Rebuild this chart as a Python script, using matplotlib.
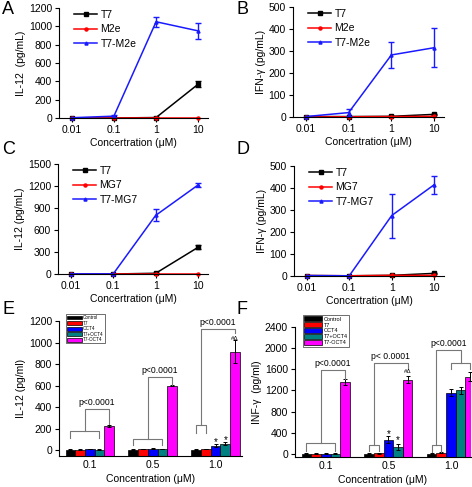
import numpy as np
import matplotlib.pyplot as plt

plt.rcParams['font.family'] = ['Liberation Sans', 'DejaVu Sans']
plt.rcParams['font.size'] = 7.5

W, H = 472, 487

# line panels: concentration series
conc = [0.01, 0.1, 1, 10]
conc_labels = ['0.01', '0.1', '1', '10']

a_names = ['T7', 'M2e', 'T7-M2e']
a_t7 = [0, 0, 5, 370]
a_t7_err = [0, 0, 3, 30]
a_m2e = [0, 0, 0, 0]
a_m2e_err = [0, 0, 0, 0]
a_fus = [3, 20, 1050, 950]
a_fus_err = [0, 15, 55, 90]

b_t7 = [2, 2, 3, 12]
b_t7_err = [0, 0, 1, 3]
b_m2e = [0, 1, 2, 3]
b_m2e_err = [0, 0, 0, 0]
b_fus = [2, 20, 282, 315]
b_fus_err = [0, 15, 58, 88]

c_names = ['T7', 'MG7', 'T7-MG7']
c_t7 = [0, 0, 10, 365]
c_t7_err = [0, 0, 3, 25]
c_mg7 = [0, 0, 0, 0]
c_mg7_err = [0, 0, 0, 0]
c_fus = [2, 2, 800, 1215]
c_fus_err = [0, 0, 80, 30]

d_t7 = [2, 1, 3, 12]
d_t7_err = [0, 0, 1, 2]
d_mg7 = [2, 1, 3, 3]
d_mg7_err = [0, 0, 0, 0]
d_fus = [2, 1, 275, 415]
d_fus_err = [0, 0, 100, 40]

# bar panels
groups = ['0.1', '0.5', '1.0']
bar_names = ['Control', 'T7', 'OCT4', 'T7+OCT4', 'T7-OCT4']
bar_colors = ['black', 'red', 'blue', '#008080', 'magenta']

e_vals = [[5, 5, 5], [5, 8, 8], [10, 12, 40], [5, 8, 60], [225, 600, 915]]
e_errs = [[2, 2, 2], [2, 2, 2], [3, 4, 15], [2, 2, 15], [12, 6, 110]]
f_vals = [[5, 5, 5], [5, 10, 20], [5, 270, 1160], [5, 130, 1200], [1360, 1405, 1460]]
f_errs = [[3, 3, 3], [3, 5, 10], [3, 60, 60], [3, 50, 60], [50, 60, 80]]


def px(l, t, r, b):
    return [l / W, 1 - b / H, (r - l) / W, (b - t) / H]


fig = plt.figure(figsize=(W / 100, H / 100), dpi=100)


def line_panel(rect, ylab, ymax, ystep, names, series, errs):
    ax = fig.add_axes(px(*rect))
    for name, y, e, m, c in zip(names, series, errs, ['s', 'o', '^'], ['black', 'red', '#1a1aff']):
        ax.plot(conc, y, color=c, marker=m, ms=2.2, lw=1.1, label=name, clip_on=False)
        idx = [i for i in range(len(conc)) if e[i] > 0]
        if idx:
            ax.errorbar([conc[i] for i in idx], [y[i] for i in idx], yerr=[e[i] for i in idx],
                        fmt='none', ecolor=c, capsize=2, elinewidth=1)
    ax.set_xscale('log')
    ax.set_xlim(0.005, 17)
    ax.set_xticks(conc)
    ax.set_xticklabels(conc_labels)
    ax.xaxis.set_minor_locator(plt.NullLocator())
    ax.set_ylim(0, ymax)
    ax.set_yticks(np.arange(0, ymax + 1, ystep))
    ax.spines[['top', 'right']].set_visible(False)
    ax.tick_params(direction='out', length=3, width=0.8, pad=2)
    ax.set_xlabel('Concertration (μM)', labelpad=2)
    ax.set_ylabel(ylab, labelpad=2)
    ax.legend(loc='upper left', bbox_to_anchor=(0.04, 1.07), frameon=False,
              handlelength=2.2, handletextpad=0.3, labelspacing=0.45, fontsize=7.5)
    return ax


line_panel((59, 8, 208, 118), 'IL-12  (pg/mL)', 1200, 200, a_names,
           [a_t7, a_m2e, a_fus], [a_t7_err, a_m2e_err, a_fus_err])
line_panel((293, 7, 444, 117), 'IFN-γ (pg/mL)', 500, 100, a_names,
           [b_t7, b_m2e, b_fus], [b_t7_err, b_m2e_err, b_fus_err])
line_panel((58, 164, 208, 274), 'IL-12 (pg/mL)', 1500, 300, c_names,
           [c_t7, c_mg7, c_fus], [c_t7_err, c_mg7_err, c_fus_err])
line_panel((294, 166, 444, 276), 'IFN-γ (pg/mL)', 500, 100, c_names,
           [d_t7, d_mg7, d_fus], [d_t7_err, d_mg7_err, d_fus_err])

bw = 0.154


def bar_x(g, k):
    return g + (k - 2) * bw


def bar_panel(rect, ylab, ylim, ystep, vals, errs, xmax, leg_anchor, leg_fs):
    ax = fig.add_axes(px(*rect))
    x = np.arange(len(groups))
    base = ylim[0]
    for k, (name, c) in enumerate(zip(bar_names, bar_colors)):
        ax.bar(x + (k - 2) * bw, np.array(vals[k]) - base, bw, bottom=base, yerr=errs[k],
               color=c, edgecolor='black', linewidth=0.5, label=name,
               error_kw=dict(ecolor='black', elinewidth=0.7, capsize=1.2, capthick=0.7))
    ax.set_xlim(-0.49, xmax)
    ax.set_ylim(*ylim)
    ax.set_yticks(np.arange(0, ylim[1] + 1, ystep))
    ax.set_xticks(x)
    ax.set_xticklabels(groups)
    ax.spines[['top', 'right']].set_visible(False)
    ax.tick_params(axis='y', direction='out', length=3, width=0.8, pad=2)
    ax.tick_params(axis='x', length=0, pad=3)
    ax.set_xlabel('Concentration (μM)', labelpad=3)
    ax.set_ylabel(ylab, labelpad=2)
    leg = ax.legend(loc='upper left', bbox_to_anchor=leg_anchor, fontsize=leg_fs, frameon=True,
                    fancybox=False, edgecolor='black', handlelength=3.2, handleheight=0.9,
                    handletextpad=0.3, labelspacing=0.12, borderpad=0.25, borderaxespad=0)
    leg.get_frame().set_linewidth(0.5)
    return ax


def compare(ax, g, i, j, h0, h1, h2, tx, ty, label, fs=6.2):
    # bracket over bars i..j in group g, linked to point (tx, ty)
    xl, xr = bar_x(g, i), bar_x(g, j)
    c = (xl + xr) / 2
    kw = dict(color='#777777', lw=0.8, clip_on=False)
    ax.plot([xl, xl, xr, xr], [h0, h1, h1, h0], **kw)
    ax.plot([c, c, tx, tx], [h1, h2, h2, ty], **kw)
    if label:
        ax.text((c + tx) / 2, h2 + (ax.get_ylim()[1] * 0.015), label, ha='center',
                va='bottom', fontsize=fs)


# E
axE = bar_panel((59, 321, 242, 456), 'IL-12 (pg/ml)', (-55, 1200), 200, e_vals, e_errs,
                2.42, (0.038, 1.052), 3.3)
compare(axE, 0, 0, 3, 110, 180, 385, bar_x(0, 4), 240, 'p<0.0001')
compare(axE, 1, 0, 3, 45, 100, 680, bar_x(1, 4), 608, 'p<0.0001')
compare(axE, 2, 0, 1, 155, 230, 1125, bar_x(2, 4), 1085, 'p<0.0001')
axE.text(bar_x(2, 4), 1040, '#Δ', ha='center', va='center', fontsize=4.5)
axE.text(bar_x(2, 2), 70, '*', ha='center', va='center', fontsize=7)
axE.text(bar_x(2, 3), 90, '*', ha='center', va='center', fontsize=7)

# F
axF = bar_panel((295, 327, 471, 457), 'INF-γ  (pg/ml)', (-60, 2400), 400, f_vals, f_errs,
                2.32, (0.045, 1.092), 4.0)
compare(axF, 0, 0, 3, 50, 200, 1585, bar_x(0, 4), 1420, 'p<0.0001')
compare(axF, 1, 0, 1, 50, 160, 1723, bar_x(1, 4), 1600, 'p< 0.0001')
compare(axF, 2, 0, 1, 30, 160, 1960, bar_x(2, 3), 1710, 'p<0.0001')
compare(axF, 2, 2, 4, 1600, 1710, 1710, bar_x(2, 3), 1710, None)
axF.text(bar_x(1, 4), 1560, '#Δ', ha='center', va='center', fontsize=4.5)
axF.text(bar_x(1, 2), 370, '*', ha='center', va='center', fontsize=7)
axF.text(bar_x(1, 3), 255, '*', ha='center', va='center', fontsize=7)

for letter, x, y in [('A', 2, 1), ('B', 237, 1), ('C', 2, 141), ('D', 237, 141),
                     ('E', 2, 301), ('F', 237, 301)]:
    fig.text(x / W, 1 - y / H, letter, fontsize=13, va='top', ha='left')

fig.savefig('out.png', dpi=100)
